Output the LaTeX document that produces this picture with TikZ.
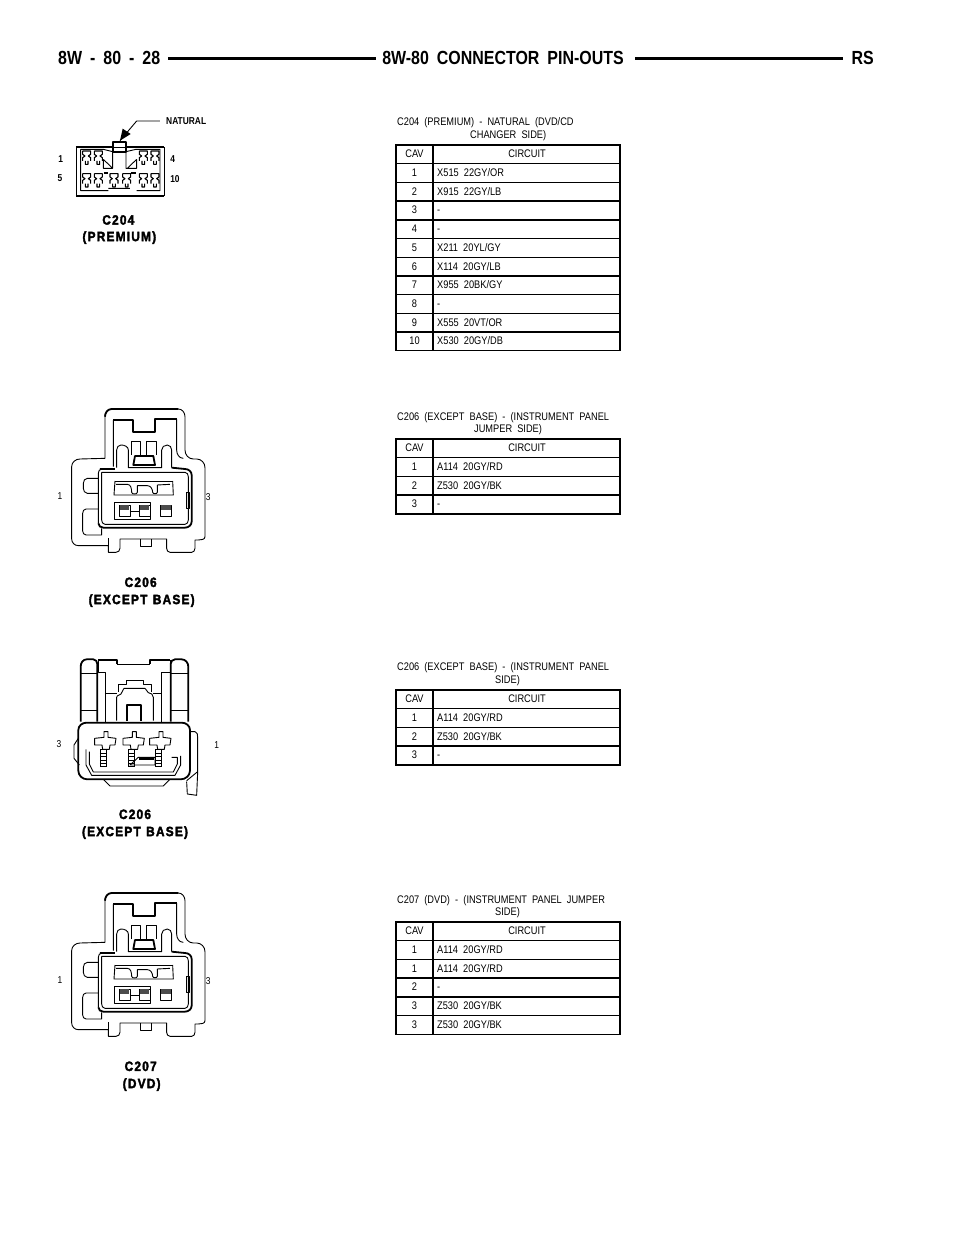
\documentclass[tikz,border=0pt]{standalone}
\usepackage{fontspec}
\setmainfont[FakeStretch=0.84,WordSpace=2.0]{Liberation Sans}
\newfontfamily\headfont[FakeStretch=0.84,WordSpace=1.8]{Liberation Sans Bold}
\newfontfamily\capfont[FakeStretch=0.88,LetterSpace=9,WordSpace=1.2,FakeBold=2.5]{Liberation Sans Bold}
\usetikzlibrary{arrows.meta}
\tikzset{
  txt/.style={inner sep=0pt,text height=7.6pt,text depth=0pt,font=\fontsize{11}{12}\selectfont},
  capname/.style={inner sep=0pt,font=\capfont\fontsize{13.5}{15}\selectfont},
  pagehead/.style={inner sep=0pt,font=\headfont\fontsize{19}{21}\selectfont},
  pinnum/.style={inner sep=0pt,font=\fontsize{10}{12}\selectfont},
  boldnum/.style={inner sep=0pt,font=\headfont\fontsize{10}{11}\selectfont},
  thin line/.style={line width=0.9pt,line join=round},
  bold line/.style={line width=1.8pt,line join=round},
  grid line/.style={line width=1.4pt}
}
% table: name, top edge, number of rows below the head, list of rows
\newcommand{\pintable}[4]{
  \draw[grid line] (396,#2) rectangle (620,#2+18.7*#3+18.7);
  \draw[grid line] (433,#2) -- (433,#2+18.7*#3+18.7);
  \foreach \r in {1,...,#3}
    \draw[grid line] (396,#2+18.7*\r) -- (620,#2+18.7*\r);
  \node[txt] (#1cav) at (414.5,#2+9) {CAV};
  \node[txt] (#1circ) at (527,#2+9) {CIRCUIT};
  \foreach \c/\w [count=\r] in {#4} {
    \node[txt] (#1c\r) at (414.5,#2+9+18.7*\r) {\c};
    \node[txt,anchor=west] (#1w\r) at (437,#2+9+18.7*\r) {\w};
  }
}
\begin{document}
\begin{tikzpicture}[x=1pt,y=-1pt]
\useasboundingbox (0,0) rectangle (960,1242);

% Page head
\node[pagehead,anchor=west] (pageno) at (58,58) {8W - 80 - 28};
\node[pagehead] (pagetitle) at (503,58) {8W-80 CONNECTOR PIN-OUTS};
\node[pagehead,anchor=east] (pagetag) at (874,58) {RS};
\draw[line width=2.6pt] (168,58.5) -- (376,58.5);
\draw[line width=2.6pt] (635,58.5) -- (843,58.5);

% Tables
\node[txt,anchor=west] (t1a) at (397,122) {C204 (PREMIUM) - NATURAL (DVD/CD};
\node[txt,anchor=west] (t1b) at (470,135) {CHANGER SIDE)};
\pintable{a}{145}{10}{1/{X515 22GY/OR},2/{X915 22GY/LB},3/-,4/-,5/{X211 20YL/GY},6/{X114 20GY/LB},7/{X955 20BK/GY},8/-,9/{X555 20VT/OR},10/{X530 20GY/DB}}

\node[txt,anchor=west] (t2a) at (397,417) {C206 (EXCEPT BASE) - (INSTRUMENT PANEL};
\node[txt,anchor=west] (t2b) at (474,429) {JUMPER SIDE)};
\pintable{b}{439}{3}{1/{A114 20GY/RD},2/{Z530 20GY/BK},3/-}

\node[txt,anchor=west] (t3a) at (397,667) {C206 (EXCEPT BASE) - (INSTRUMENT PANEL};
\node[txt,anchor=west] (t3b) at (495,680) {SIDE)};
\pintable{c}{690}{3}{1/{A114 20GY/RD},2/{Z530 20GY/BK},3/-}

\node[txt,anchor=west] (t4a) at (397,900) {C207 (DVD) - (INSTRUMENT PANEL JUMPER};
\node[txt,anchor=west] (t4b) at (495,912) {SIDE)};
\pintable{d}{922}{5}{1/{A114 20GY/RD},1/{A114 20GY/RD},2/-,3/{Z530 20GY/BK},3/{Z530 20GY/BK}}

% C204 connector
\begin{scope}[shift={(40,100)},x=0.3333pt,y=-0.3333pt]
  \draw[bold line] (108,288) -- (372,288);
  \draw[bold line] (108,142) -- (215,142) (258,142) -- (372,142);
  \draw[thin line] (108,142) -- (108,288) (372,142) -- (372,288);
  \draw[thin line] (122,148) -- (190,148) -- (218,155) (258,155) -- (288,148) -- (360,148) -- (360,272) -- (290,272) (122,148) -- (122,272) -- (205,272) (205,265) -- (270,265);
  \draw[bold line] (218,125) -- (258,125) -- (258,155) -- (218,155) -- cycle;
  \draw[thin line] (218,142) -- (258,142);
  \draw[thin line] (190,178) -- (190,205) -- (218,205) -- (218,155) (258,155) -- (258,205) -- (290,205) -- (290,178) (190,178) -- (218,205) (290,178) -- (262,205);
  \foreach \pinx/\piny in {140/168,175/168,310/168,345/168,140/236,175/236,222/236,260/236,310/236,345/236}
    \draw[line width=1.1pt,line join=round] (\pinx-12,\piny-15) -- (\pinx+12,\piny-15) -- (\pinx+12,\piny-5) -- (\pinx+5,\piny) -- (\pinx+12,\piny+5) -- (\pinx+12,\piny+15) (\pinx-12,\piny-15) -- (\pinx-12,\piny-5) -- (\pinx-5,\piny) -- (\pinx-12,\piny+5) -- (\pinx-12,\piny+15) (\pinx-4,\piny+15) -- (\pinx-4,\piny+25) -- (\pinx+4,\piny+25) -- (\pinx+4,\piny+15);
  \draw[bold line] (192,218) -- (204,218) (272,218) -- (288,218);
  \coordinate (natend) at (360,63);
  \coordinate (natbend) at (290,63);
  \coordinate (nattip) at (240,122);
  \draw[thin line] (natend) -- (natbend) -- (nattip);
  \fill (nattip) -- (248,86) -- (272,102) -- cycle;
  \node[boldnum,anchor=west] (natural) at (378,62) {NATURAL};
  \node[boldnum] (p1) at (62,178) {1};
  \node[boldnum] (p4) at (398,178) {4};
  \node[boldnum] (p5) at (60,235) {5};
  \node[boldnum] (p10) at (405,237) {10};
  \node[capname] (c204) at (235,360) {C204};
  \node[capname] (premium) at (238,413) {(PREMIUM)};
\end{scope}

% C206 and C207 share one outline
\foreach \plugy/\plugname/\plugsub in {395/C206/(EXCEPT BASE),879/C207/(DVD)} {
\begin{scope}[shift={(50,\plugy)},x=0.3333pt,y=-0.3333pt]
  % outer shell
  \draw[thin line] (165,190) -- (165,65) to[out=90,in=180] (185,42) -- (385,42) to[out=0,in=90] (405,65) -- (405,165) to[out=-90,in=180] (430,192) -- (440,192) to[out=0,in=90] (465,218) -- (465,425) to[out=-90,in=0] (445,435) -- (435,435) -- (435,460) to[out=-90,in=0] (425,472) -- (360,472) to[out=180,in=-90] (350,460) -- (350,432) -- (210,432) -- (210,460) to[out=-90,in=0] (198,472) -- (175,472) -- (175,452) -- (85,452) to[out=180,in=-90] (65,432) -- (65,215) to[out=90,in=180] (90,192) -- (165,190);
  \draw[bold line] (165,65) to[out=90,in=180] (185,42) -- (385,42);
  \draw[thin line] (175,430) -- (175,472);
  \draw[thin line] (272,432) -- (272,455) -- (305,455) -- (305,432);
  % inner shell with the top notch
  \draw[bold line] (190,75) -- (250,75) -- (250,112) -- (315,112) -- (315,72) -- (380,72);
  \draw[thin line] (190,75) -- (190,215) (380,72) -- (380,165) to[out=-90,in=180] (400,190);
  % body
  \draw[bold line] (150,222) -- (195,222) (365,218) -- (405,222) to[out=0,in=90] (425,240) -- (425,380) to[out=-90,in=0] (405,398) -- (160,398) to[out=180,in=-90] (145,385);
  \draw[thin line] (145,385) -- (145,235) to[out=90,in=180] (155,222) (155,232) -- (405,232) to[out=0,in=90] (415,245) -- (415,375) to[out=-90,in=0] (405,388) -- (165,388) to[out=180,in=-90] (155,375) -- (155,232);
  % post and latch
  \draw[thin line] (200,218) -- (200,165) to[out=90,in=180] (213,150) to[out=0,in=90] (235,165) -- (235,218) -- (335,218) -- (335,165) to[out=90,in=180] (352,150) to[out=0,in=90] (365,165) -- (365,218);
  \draw[thin line] (243,180) -- (243,138) -- (270,138) -- (270,180) (288,180) -- (288,138) -- (318,138) -- (318,180);
  \draw[bold line] (255,183) -- (310,183) -- (315,210) -- (250,210) -- cycle;
  % side bumps
  \draw[thin line] (145,250) -- (112,250) to[out=180,in=90] (100,265) -- (100,280) to[out=-90,in=180] (112,295) -- (145,295);
  \draw[thin line] (145,342) -- (108,342) to[out=180,in=90] (98,355) -- (98,408) to[out=-90,in=180] (108,420) -- (155,420) -- (155,400);
  \draw[thin line] (408,292) -- (418,292) -- (418,340) -- (408,340) -- cycle;
  % slot
  \draw[thin line] (195,258) -- (368,258);
  \draw[thin line] (195,258) -- (192,300) -- (370,300) -- (368,258);
  \draw[thin line] (198,268) -- (232,268) to[out=0,in=90] (245,292) to[out=-90,in=-90] (262,292) -- (262,272) -- (292,272) to[out=0,in=90] (308,292) to[out=-90,in=-90] (322,292) -- (322,270) -- (360,268);
  % terminals
  \draw[thin line] (192,322) rectangle (302,372);
  \draw[thin line] (240,350) -- (268,350);
  \foreach \tx in {208,268,332} {
    \draw[thin line] (\tx,330) rectangle (\tx+32,365);
    \fill[black!70] (\tx+2,330) rectangle (\tx+30,344);
  }
  \node[pinnum] (lft\plugname) at (30,303) {1};
  \node[pinnum] (rgt\plugname) at (475,306) {3};
  \node[capname] (name\plugname) at (272,562) {\plugname};
  \node[capname] (sub\plugname) at (275,617) {\plugsub};
\end{scope}
}

% C206 connector, plug side
\begin{scope}[shift={(50,650)},x=0.3333pt,y=-0.3333pt]
  % side shells
  \draw[bold line] (142,215) -- (142,42) to[out=90,in=0] (130,28) -- (110,28) to[out=180,in=90] (92,50) -- (92,215);
  \draw[bold line] (362,215) -- (362,42) to[out=90,in=180] (375,28) -- (395,28) to[out=0,in=90] (415,50) -- (415,215);
  \draw[thin line] (94,70) -- (140,70) (94,180) -- (140,180) (364,70) -- (413,70) (364,180) -- (413,180);
  % top
  \draw[bold line] (145,30) -- (200,30) -- (200,42) (300,42) -- (300,30) -- (360,30);
  \draw[thin line] (200,42) -- (300,42) (145,30) -- (145,68) -- (165,68) -- (165,215) (360,30) -- (360,68) -- (335,68) -- (335,215);
  \draw[thin line] (165,130) -- (200,130) (310,130) -- (335,130);
  % hood
  \draw[thin line] (205,125) -- (205,102) -- (230,102) -- (230,92) -- (280,92) -- (280,102) -- (305,102) -- (305,125);
  \draw[thin line] (200,212) -- (200,142) to[out=90,in=-90] (215,128) -- (222,115) -- (285,115) -- (295,128) to[out=0,in=90] (310,142) -- (310,212);
  \draw[bold line] (232,212) -- (232,165) -- (272,165) -- (272,212);
  % body
  \draw[bold line] (110,218) -- (395,218) to[out=0,in=90] (420,240) -- (420,362) to[out=-90,in=0] (392,388) -- (112,388) to[out=180,in=-90] (85,362) -- (85,240) to[out=90,in=180] (110,218);
  \draw[thin line] (160,388) -- (180,408) -- (340,408) -- (360,388);
  % latch side
  \draw[thin line] (420,245) -- (435,245) to[out=0,in=90] (443,262) -- (443,368) -- (440,436) -- (412,432) -- (410,395) (443,365) -- (410,392);
  \draw[thin line] (85,265) -- (72,285) -- (72,325) -- (88,345);
  % cavity
  \draw[thin line] (108,298) -- (108,345) -- (125,376) -- (375,376) -- (392,345) -- (392,318);
  \draw[thin line] (118,305) -- (118,342) -- (130,366) -- (370,366) -- (382,342) -- (382,322) -- (365,322);
  % terminals
  \foreach \tx in {170,255,335} {
    \draw[thin line] (\tx-8,245) -- (\tx+4,245) -- (\tx+4,262) -- (\tx+28,265) -- (\tx+25,285) -- (\tx+10,285) -- (\tx+8,298) -- (\tx-12,298) -- (\tx-14,285) -- (\tx-36,285) -- (\tx-36,265) -- (\tx-8,262) -- cycle;
    \draw[line width=0.5pt] (\tx-20,298) rectangle (\tx-2,350);
    \foreach \ty in {310,320,330,340}
      \draw[line width=0.5pt] (\tx-20,\ty) -- (\tx-2,\ty);
  }
  \draw[thin line] (240,345) -- (265,322) -- (315,322) -- (315,345) -- cycle;
  \draw[bold line] (268,328) -- (312,328);
  \node[pinnum] (lft3) at (27,283) {3};
  \node[pinnum] (rgt1) at (500,285) {1};
  \node[capname] (c206b) at (255,493) {C206};
  \node[capname] (base2) at (255,548) {(EXCEPT BASE)};
\end{scope}
\end{tikzpicture}
\end{document}
